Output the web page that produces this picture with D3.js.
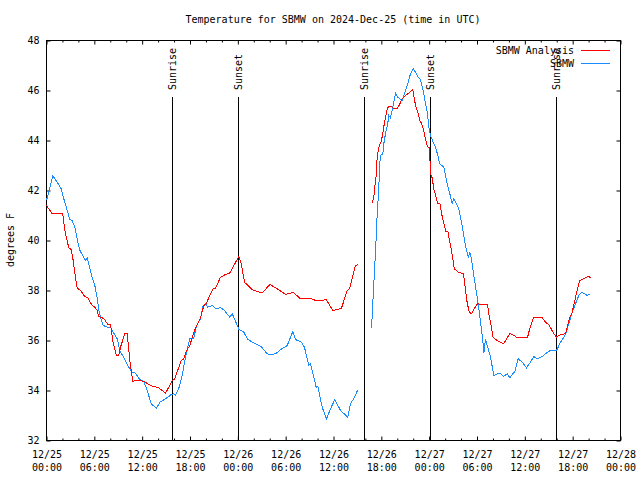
<!DOCTYPE html>
<html>
<head>
<meta charset="utf-8">
<script src="https://cdn.jsdelivr.net/npm/d3@7"></script>
<style>
  html, body { margin: 0; padding: 0; background: #fff; }
  svg { display: block; }
  text { font-family: "DejaVu Sans Mono", "Liberation Mono", monospace; font-size: 10px; fill: #000; }
</style>
</head>
<body>
<svg id="chart" width="640" height="480"></svg>
<script>
// ---- Data (hours since 2024-12-25 00:00 UTC) ----
const analysisHours = [0,0.72,2.04,2.3,2.8,3.1,3.35,3.55,3.85,4.27,4.8,5.18,5.73,6.06,6.36,6.56,7.19,7.69,8.03,8.37,8.78,9.07,9.28,9.82,10.12,10.45,10.83,11.38,12.2,13.05,13.8,14.09,14.93,15.34,15.77,16.09,16.6,16.9,17.22,17.56,17.98,18.28,18.57,18.9,19.32,19.73,20.03,20.57,20.91,21.2,21.83,22.45,22.99,23.5,24.12,24.42,24.84,25.8,27.06,28.01,28.94,29.98,30.95,31.86,32.9,33.87,35.12,35.91,37.0,37.72,38.01,38.76,39.05,
  40.0,
  40.86,41.06,41.18,41.36,41.48,41.68,42.02,42.24,42.4,42.74,42.94,43.28,43.56,43.99,44.28,44.62,45.03,45.57,45.95,46.07,46.29,46.57,46.83,47.04,47.25,47.54,47.76,48.04,48.17,48.38,48.58,49.05,49.35,49.56,49.81,50.1,50.4,50.53,50.73,50.94,51.15,51.69,52.31,52.52,52.72,53.02,53.35,53.65,54.06,54.69,55.31,55.52,55.81,56.02,56.35,56.77,57.32,57.73,58.11,58.45,59.08,60.33,60.66,61.08,62.18,62.59,63.0,63.3,63.64,63.97,64.26,65.1,65.32,65.64,65.94,66.36,66.65,66.9,67.32,67.74,68.02,68.24];
const analysisTemps = [41.4,41.07,41.07,40.4,39.7,39.64,39.2,38.7,38.1,38.0,37.76,37.7,37.4,37.33,37.2,36.96,36.88,36.64,36.64,35.88,35.4,35.4,35.73,36.27,36.27,35.2,34.37,34.4,34.37,34.2,34.13,34.1,33.9,34.13,34.4,34.47,34.93,35.2,35.27,35.6,35.8,36.13,36.4,36.63,36.9,37.4,37.47,37.87,38.07,38.1,38.53,38.64,38.7,39.0,39.36,39.07,38.33,38.03,37.9,38.24,38.07,37.84,37.93,37.67,37.7,37.59,37.63,37.2,37.29,38.0,38.07,39.0,39.03,
  null,
  41.49,41.73,42.13,42.6,43.33,43.73,44.0,44.4,44.73,45.27,45.36,45.36,45.27,45.27,45.44,45.67,45.8,45.93,46.03,45.8,45.4,45.13,44.8,44.69,44.47,44.07,43.76,43.71,42.67,42.5,42.07,41.5,41.47,41.07,40.73,40.37,40.33,40.0,39.73,39.33,38.87,38.73,38.67,38.13,37.6,37.13,37.07,37.27,37.47,37.44,37.44,37.0,36.53,36.13,36.04,35.96,35.87,36.07,36.27,36.24,36.11,36.11,36.53,36.91,36.91,36.73,36.63,36.47,36.27,36.13,36.2,36.28,36.53,36.93,37.13,37.73,38.13,38.4,38.47,38.53,38.56,38.51];

const obsHours = [0,0.38,0.79,1.34,1.84,2.17,2.6,2.92,3.22,3.55,3.85,4.14,4.55,4.89,5.11,5.39,5.73,6.06,6.36,6.56,6.77,7.11,7.69,8.03,8.37,8.87,9.19,9.7,10.32,10.75,11.16,11.7,12.2,12.63,13.13,13.8,14.21,14.71,15.22,15.64,15.97,16.18,16.68,17.02,17.31,17.72,17.98,18.48,18.82,19.32,19.66,19.95,20.23,20.79,21.2,21.83,22.33,22.99,23.29,23.58,24.12,24.75,25.25,26.22,26.93,27.6,28.01,28.73,29.35,30.19,30.9,31.23,31.99,32.36,32.9,33.12,33.83,34.03,34.58,35.12,35.63,36.17,36.88,37.8,38.13,38.64,39.05,
  40.0,
  40.77,41.36,41.48,41.68,41.77,41.9,42.19,42.31,42.52,42.81,42.94,43.15,43.44,43.78,44.07,44.62,44.82,45.25,45.66,46.0,46.29,46.57,46.91,47.25,47.54,47.76,47.96,48.17,48.51,48.8,49.09,49.31,49.85,50.26,50.59,50.89,51.09,51.72,52.06,52.56,52.9,53.1,53.27,53.6,54.03,54.32,54.57,54.73,54.86,55.07,55.28,55.7,56.11,56.66,56.95,57.29,57.79,58.12,58.75,59.17,59.67,60.21,60.71,61.13,61.55,62.18,62.81,63.22,63.97,64.48,65.1,65.52,65.94,66.36,66.77,67.11,67.53,67.82,68.24];
const obsTemps = [41.6,42.07,42.6,42.33,42.07,41.67,41.2,40.83,40.8,40.53,40.07,39.63,39.4,39.2,39.31,38.93,38.53,38.2,37.7,37.2,36.93,36.6,36.53,36.53,36.33,36.07,35.6,35.31,34.93,34.73,34.69,34.43,34.37,34.0,33.47,33.29,33.53,33.63,33.73,33.84,33.87,33.8,34.16,34.6,35.13,35.73,36.07,36.1,36.6,36.87,37.4,37.49,37.33,37.4,37.27,37.31,37.2,36.93,37.07,36.87,36.45,36.33,36.04,35.87,35.76,35.49,35.43,35.47,35.63,35.8,36.36,36.04,35.93,35.73,35.0,35.07,34.13,34.17,33.33,32.87,33.27,33.64,33.2,32.93,33.47,33.73,34.03,
  null,
  36.5,40.13,41.07,42.07,42.93,43.4,43.47,43.87,44.27,44.69,45.0,44.91,45.33,45.89,45.73,45.6,45.8,46.2,46.67,46.87,46.73,46.56,46.43,46.0,45.47,45.13,44.53,44.2,43.93,43.73,43.4,43.07,42.93,42.27,41.87,41.47,41.67,41.27,40.73,39.8,39.33,39.53,39.33,38.6,37.73,37.07,36.4,36.0,35.49,36.07,35.8,35.33,34.6,34.69,34.67,34.56,34.67,34.51,34.77,35.27,35.13,34.91,35.13,35.36,35.27,35.36,35.53,35.6,35.6,35.93,36.24,36.67,37.13,37.47,37.8,37.93,37.87,37.8,37.87];

const sunEventHours = [15.8, 24.05, 39.85, 48.05, 63.95];
const sunEventLabels = ["Sunrise", "Sunset", "Sunrise", "Sunset", "Sunrise"];

const seriesNames = ["SBMW Analysis", "SBMW"];
const seriesColors = ["#ff0000", "#1a8cff"];
const yTicks = [32, 34, 36, 38, 40, 42, 44, 46, 48];
const titleText = "Temperature for SBMW on 2024-Dec-25 (time in UTC)";
const yLabel = "degrees F";

// ---- Build ----
const T0 = Date.UTC(2024, 11, 25, 0, 0);
const H = 3600e3;
const toDate = h => new Date(T0 + h * H);

const pLeft = 46.5, pRight = 620.5, pTop = 40.5, pBottom = 440.5;
const svg = d3.select("#chart");

const x = d3.scaleUtc().domain([toDate(0), toDate(72)]).range([pLeft, pRight]);
const y = d3.scaleLinear().domain([32, 48]).range([pBottom, pTop]);

const majorTicks = d3.range(0, 73, 6).map(toDate);
const minorTicks = d3.range(0, 73, 2).filter(h => h % 6 !== 0).map(toDate);
const fmtDate = d3.utcFormat("%m/%d");
const fmtTime = d3.utcFormat("%H:%M");

// Title
svg.append("text").attr("x", 333).attr("y", 23).attr("text-anchor", "middle").text(titleText);

// Y label
svg.append("text").attr("transform", "translate(14,240) rotate(-90)").attr("text-anchor", "middle").text(yLabel);

// Bottom axis (major, with labels)
const gB = svg.append("g").attr("transform", `translate(0,${pBottom})`)
  .call(d3.axisBottom(x).tickValues(majorTicks).tickSizeInner(-4).tickSizeOuter(0).tickPadding(9).tickFormat(d => ""));
gB.select(".domain").remove();
gB.selectAll(".tick text").each(function(d) {
  const t = d3.select(this);
  t.attr("dy", null).attr("y", 17);
  t.append("tspan").attr("x", 0).attr("y", 17).text(fmtDate(d));
  t.append("tspan").attr("x", 0).attr("y", 30).text(fmtTime(d));
});
// Bottom minor
svg.append("g").attr("transform", `translate(0,${pBottom})`)
  .call(d3.axisBottom(x).tickValues(minorTicks).tickSizeInner(-2).tickSizeOuter(0).tickFormat(""))
  .select(".domain").remove();
// Top major/minor
svg.append("g").attr("transform", `translate(0,${pTop})`)
  .call(d3.axisTop(x).tickValues(majorTicks).tickSizeInner(-4).tickSizeOuter(0).tickFormat(""))
  .select(".domain").remove();
svg.append("g").attr("transform", `translate(0,${pTop})`)
  .call(d3.axisTop(x).tickValues(minorTicks).tickSizeInner(-2).tickSizeOuter(0).tickFormat(""))
  .select(".domain").remove();

// Left axis
const gL = svg.append("g").attr("transform", `translate(${pLeft},0)`)
  .call(d3.axisLeft(y).tickValues(yTicks).tickSizeInner(-4).tickSizeOuter(0).tickPadding(7).tickFormat(d3.format("d")));
gL.select(".domain").remove();
// Right axis
svg.append("g").attr("transform", `translate(${pRight},0)`)
  .call(d3.axisRight(y).tickValues(yTicks).tickSizeInner(-4).tickSizeOuter(0).tickFormat(""))
  .select(".domain").remove();

svg.selectAll(".tick line").attr("stroke", "#000");
svg.selectAll(".tick text").attr("font-family", "DejaVu Sans Mono").attr("font-size", 10).attr("fill", "#000");

// Frame
svg.append("rect").attr("x", pLeft).attr("y", pTop).attr("width", pRight - pLeft).attr("height", pBottom - pTop)
  .attr("fill", "none").attr("stroke", "#000").attr("stroke-width", 1);

// Sunrise / sunset markers
sunEventHours.forEach((h, i) => {
  const px = Math.round(x(toDate(h))) + 0.5;
  svg.append("line").attr("x1", px).attr("x2", px).attr("y1", 97).attr("y2", pBottom)
    .attr("stroke", "#000").attr("stroke-width", 1);
  svg.append("text").attr("transform", `translate(${px + 3.5},90) rotate(-90)`)
    .attr("text-anchor", "start").text(sunEventLabels[i]);
});

// Series lines
const line = d3.line()
  .defined(d => d[1] !== null)
  .x(d => x(toDate(d[0])))
  .y(d => y(d[1]));

const series = [
  analysisHours.map((h, i) => [h, analysisTemps[i]]),
  obsHours.map((h, i) => [h, obsTemps[i]])
];
[1, 0].forEach(k => {
  svg.append("path").datum(series[k]).attr("d", line)
    .attr("fill", "none").attr("stroke", seriesColors[k]).attr("stroke-width", 1)
    .attr("shape-rendering", "crispEdges");
});

// Legend
seriesNames.forEach((name, i) => {
  const ly = 50 + i * 13;
  svg.append("text").attr("x", 574).attr("y", ly + 3.5).attr("text-anchor", "end").text(name);
  svg.append("line").attr("x1", 581).attr("x2", 610).attr("y1", ly + 0.5).attr("y2", ly + 0.5)
    .attr("stroke", seriesColors[i]).attr("stroke-width", 1);
});
</script>
</body>
</html>
